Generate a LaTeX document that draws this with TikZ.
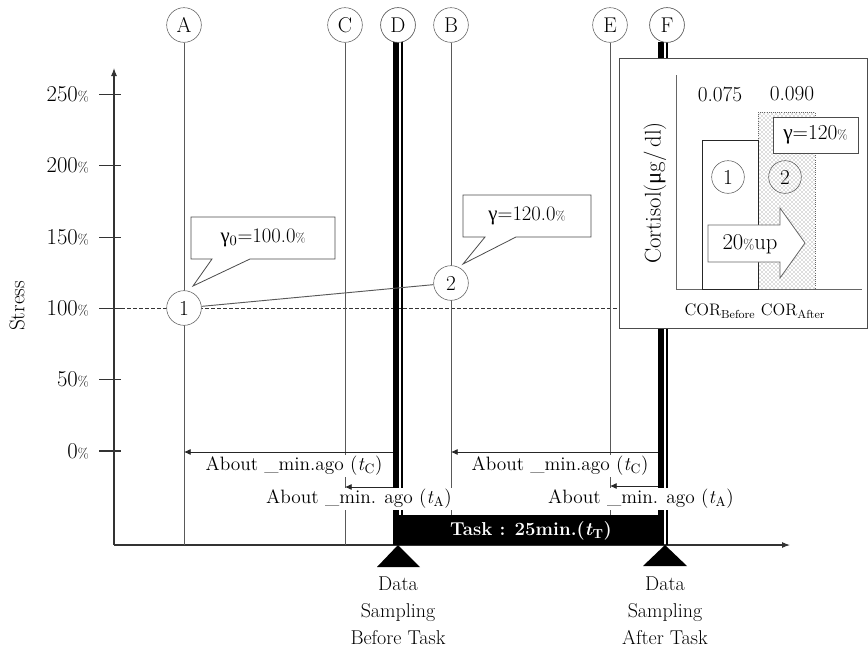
\documentclass[tikz,border=0pt]{standalone}
\usepackage{fontspec}
\usepackage{graphicx}
\newfontfamily\grk{Liberation Serif}
\usetikzlibrary{arrows.meta,patterns}
\newcommand{\pc}{\scalebox{0.62}{\%}}
\newcommand{\gam}{{\grk γ}}
\begin{document}
\begin{tikzpicture}[x=0.75pt,y=-0.75pt,
  vline/.style={draw=black!65, line width=0.7pt},
  axisl/.style={draw=black!80, line width=0.8pt},
  thickl/.style={draw=black, line width=4.6pt},
  thinl/.style={draw=black, line width=0.9pt},
  lbl/.style={circle, draw=black!65, fill=white, minimum size=26pt, inner sep=0pt, font=\fontsize{16}{18}\selectfont},
  slbl/.style={circle, draw=black!65, minimum size=24.5pt, inner sep=0pt, font=\fontsize{16}{18}\selectfont},
  txt/.style={inner sep=0pt, font=\fontsize{15.5}{18}\selectfont},
  ticklbl/.style={inner sep=0pt, anchor=east, font=\fontsize{17}{19}\selectfont},
  about/.style={fill=white, inner sep=1pt, font=\fontsize{14.5}{17}\selectfont},
  arr/.style={draw=black!85, line width=0.6pt, -{Latex[length=5pt,width=4.5pt]}},
  callout/.style={draw=black!70, fill=white, line width=0.6pt},
  dashline/.style={draw=black!80, line width=0.6pt, dash pattern=on 3pt off 1.5pt},
  datalbl/.style={inner sep=0pt, anchor=north, align=center, font=\fontsize{15}{20}\selectfont}
]
\useasboundingbox (0,0) rectangle (868,650);

% axes
\coordinate (O) at (114,545);
\coordinate (ytop) at (114,68);
\coordinate (xend) at (790,545);
\draw[axisl, -{Latex[length=6pt,width=4.5pt]}] (O) -- (ytop);
\draw[axisl, -{Latex[length=6pt,width=4.5pt]}] (O) -- (xend);

% ticks and labels
\foreach \p in {0,50,...,250} {
  \coordinate (tl\p) at (99,{451-1.426*\p});
  \coordinate (tr\p) at (121,{451-1.426*\p});
  \draw[axisl] (tl\p) -- (tr\p);
  \node[ticklbl] (tk\p) at (89,{451-1.426*\p}) {\p\pc};
}
\node[rotate=90, inner sep=0pt, font=\fontsize{16}{18}\selectfont] (stress) at (17,306) {Stress};

% dashed 100% line
\coordinate (dl) at (121,308);
\coordinate (dr) at (619,308);
\draw[dashline] (dl) -- (dr);

% circle labels
\node[lbl] (cA) at (184,25) {A};
\node[lbl] (cC) at (345,25) {C};
\node[lbl] (cD) at (398,25) {D};
\node[lbl] (cB) at (451,25) {B};
\node[lbl] (cE) at (610,25) {E};
\node[lbl] (cF) at (667,25) {F};

% vertical lines
\draw[vline] (cA) -- (cA |- O);
\draw[vline] (cC) -- (cC |- O);
\draw[vline] (cB) -- (cB |- O);
\draw[vline] (cE) -- (cE |- O);
\coordinate (Dt1) at (396,42); \coordinate (Db1) at (396,515);
\coordinate (Dt2) at (402,42); \coordinate (Db2) at (402,515);
\draw[thickl] (Dt1) -- (Db1);
\draw[thinl] (Dt2) -- (Db2);
\coordinate (Ft1) at (661,42); \coordinate (Fb1) at (661,515);
\coordinate (Ft2) at (667,42); \coordinate (Fb2) at (667,545);
\draw[thickl] (Ft1) -- (Fb1);
\draw[thinl] (Ft2) -- (Fb2);
% redraw circles on top of line starts
\node[lbl] at (cD) {D};
\node[lbl] at (cF) {F};

% points 1 and 2
\node[lbl] (n1) at (184,308) {1};
\node[lbl] (n2) at (451,283) {2};
\draw[vline] (n1) -- (n2);

% callouts
\draw[callout] (191,217) -- (335,217) -- (335,259) -- (250,259) -- (193,286) -- (212,259) -- (191,259) -- cycle;
\node[txt] (g0) at (263,238) {\gam\textsubscript{0}=100.0\pc};
\draw[callout] (463,195) -- (591,195) -- (591,237) -- (516,237) -- (463,264) -- (485,237) -- (463,237) -- cycle;
\node[txt] (g1) at (527,216) {\gam=120.0\pc};

% time labels (white background hides vertical lines)
\node[about] (l1) at (294,466) {About \_min.ago (\textit{t}\textsubscript{C})};
\node[about] (l2) at (359,499) {About \_min. ago (\textit{t}\textsubscript{A})};
\node[about] (l3) at (560,466) {About \_min.ago (\textit{t}\textsubscript{C})};
\node[about] (l4) at (641,499) {About \_min. ago (\textit{t}\textsubscript{A})};

% time arrows
\coordinate (a1s) at (393,452); \coordinate (a1e) at (184,452);
\coordinate (a2s) at (393,487); \coordinate (a2e) at (345,487);
\coordinate (a3s) at (658,452); \coordinate (a3e) at (451,452);
\coordinate (a4s) at (658,486); \coordinate (a4e) at (610,486);
\draw[arr] (a1s) -- (a1e);
\draw[arr] (a2s) -- (a2e);
\draw[arr] (a3s) -- (a3e);
\draw[arr] (a4s) -- (a4e);

% task bar
\fill (393,515) rectangle (664,545);
\node[inner sep=0pt, text=white, font=\bfseries\fontsize{14}{16}\selectfont] (task) at (531,531) {Task : 25min.(\textit{t}\textsubscript{T})};

% sampling triangles
\coordinate (sb) at (398,545);
\coordinate (sa) at (665,545);
\fill (sb) -- (377,567) -- (420,567) -- cycle;
\fill (sa) -- (643,566) -- (687,566) -- cycle;
\node[datalbl] (dsb) at (398,577) {Data\\Sampling\\Before Task};
\node[datalbl] (dsa) at (665,577) {Data\\Sampling\\After Task};

% inset
\draw[draw=black!70, fill=white, line width=0.7pt] (619,58) rectangle (867,328);
\draw[draw=black!60, line width=0.7pt] (676,75) -- (676,289) -- (862,289);
\fill[white] (758,112) rectangle (815,289);
\fill[pattern=crosshatch dots, pattern color=black!55] (758,112) rectangle (815,289);
\draw[black!60, densely dotted, line width=0.6pt] (758,112) rectangle (815,289);
\draw[black!85, fill=white, line width=0.7pt] (702,289) rectangle (758,140);
\node[inner sep=0pt, font=\fontsize{16}{18}\selectfont] (v1) at (720,94) {0.075};
\node[inner sep=0pt, font=\fontsize{16}{18}\selectfont] (v2) at (792,94) {0.090};
\node[draw=black!70, fill=white, minimum width=63.75pt, minimum height=27pt, inner sep=0pt, font=\fontsize{16}{18}\selectfont] (g2) at (815.5,135) {\gam=120\pc};
\node[slbl] (i1) at (728,177) {1};
\node[slbl] (i2) at (785,177) {2};
\draw[draw=black!60, fill=white, line width=0.6pt] (708,225) -- (780,225) -- (780,208) -- (805,243) -- (780,278) -- (780,262) -- (708,262) -- cycle;
\node[inner sep=0pt, font=\fontsize{17}{19}\selectfont] (up) at (750,244) {20\pc up};
\node[rotate=90, inner sep=0pt, font=\fontsize{17}{19}\selectfont] (cort) at (655,193) {Cortisol({\grk μ}g/\,dl)};
\node[inner sep=0pt, font=\fontsize{12.5}{15}\selectfont] (cor) at (755,311) {COR\textsubscript{Before} COR\textsubscript{After}};
\end{tikzpicture}
\end{document}
